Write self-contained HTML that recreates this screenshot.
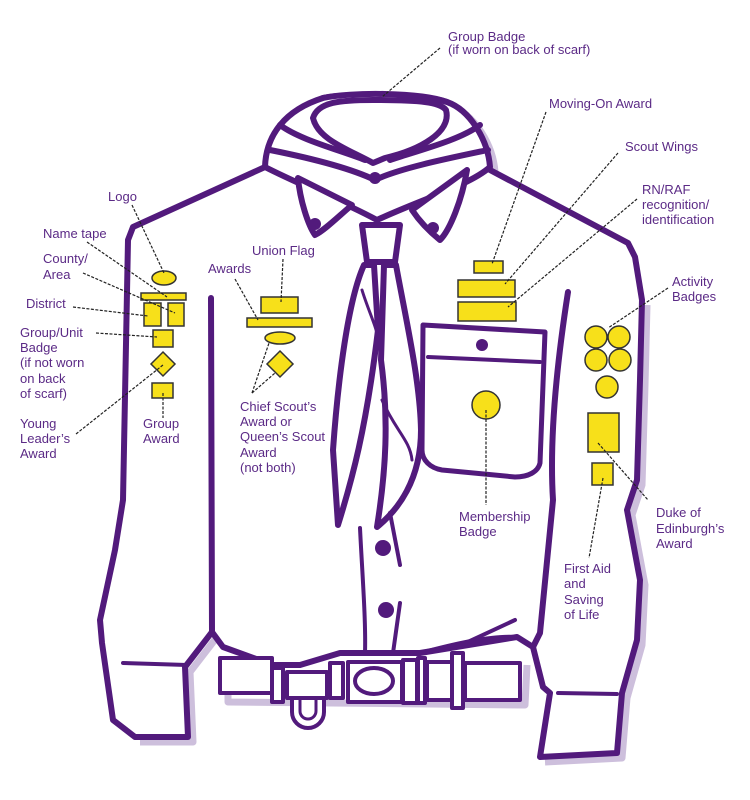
<!DOCTYPE html>
<html><head><meta charset="utf-8"><style>
html,body{margin:0;padding:0;background:#fff;}
svg{display:block;}
text{font-family:"Liberation Sans",sans-serif;font-size:13px;fill:#5b2a86;}
</style></head><body>
<svg width="750" height="800" viewBox="0 0 750 800" xmlns="http://www.w3.org/2000/svg">
<g fill="none" stroke="#cdbfdc" stroke-width="7" stroke-linejoin="round" transform="translate(5,5)">
<path d="M642,300 L640,380 L637,480 L627,510 L640,580 L637,640 L622,693 L617,753 L540,757"/>
<path d="M135,737 L188,737 L185,667 L212,632"/>
<path d="M223,660 L223,697 L520,700 L522,660"/>
<path d="M447,102 C470,110 488,140 490,167"/>
</g>
<g fill="none" stroke="#521a7c" stroke-width="6" stroke-linejoin="round" stroke-linecap="round">
<path fill="#fff" d="M265,167 L133,227 L128,240 L123,500 L115,550 L100,620 L102,643 L113,720 L135,737 L188,737 L185,667 L212,632 L223,647 L273,665 L300,665 L340,653 L420,653 L517,637 L533,647 L543,687 L550,693 L540,757 L617,753 L622,693 L637,640 L640,580 L627,510 L637,480 L640,380 L642,300 L635,257 L628,243 L490,170 L447,102 C420,93 350,93 323,98 Z"/>
<path d="M211,298 L212,632"/>
<path d="M568,292 Q548,420 553,500 L540,633 L533,647"/>
<path stroke-width="4" d="M123,663 L187,665"/>
<path stroke-width="4" d="M558,693 L617,694"/>
<path fill="#fff" d="M265,167 C266,135 285,110 323,98 C350,92 420,92 447,102 C470,110 488,140 490,167 C470,185 420,200 377,220 C340,200 300,185 265,167 Z"/>
<path fill="#fff" d="M313,118 C318,102 340,100 373,100 C420,100 440,102 446,110 C452,132 420,150 385,158 L373,163 C350,150 318,140 313,118 Z"/>
<path d="M270,150 C310,158 350,168 375,180"/>
<path d="M488,150 C450,158 400,168 375,180"/>
<path d="M280,125 C300,140 340,150 365,160"/>
<path d="M480,125 C460,140 420,150 390,160"/>
<path fill="#fff" d="M298,178 C300,200 308,225 315,235 C325,230 340,215 352,205 Z"/>
<path fill="#fff" d="M467,170 C462,200 450,230 440,240 C430,232 420,222 412,210 Z"/>
<path fill="#fff" d="M362,225 L400,225 L395,262 L367,262 Z"/>
<path fill="#fff" d="M364,265 C348,300 338,380 333,450 L338,525 C352,480 366,430 378,330 L374,265 Z"/>
<path fill="#fff" d="M384,265 L396,265 C406,320 420,380 421,430 C421,480 398,510 377,527 C386,470 389,420 381,360 Z"/>
<path stroke-width="3" d="M362,290 C368,310 378,330 378,340"/>
<path stroke-width="3" d="M382,400 C395,430 410,440 412,460"/>
<path stroke-width="4" d="M360,528 C362,570 366,620 365,653"/>
<path stroke-width="4" d="M390,513 L400,565"/>
<path stroke-width="4" d="M400,603 L393,653"/>
<path fill="#fff" stroke-width="5" d="M423,325 L545,332 L540,463 C538,472 528,477 515,477 L442,470 C430,468 422,460 422,450 Z"/>
<path stroke-width="4" d="M428,357 L540,362"/>
<path stroke-width="4" d="M420,653 C450,645 490,635 517,637"/>
<path stroke-width="4" d="M457,647 L515,620"/>
</g>
<g fill="#521a7c">
<circle cx="375" cy="178" r="6"/>
<circle cx="315" cy="224" r="6"/>
<circle cx="433" cy="228" r="6"/>
<circle cx="482" cy="345" r="6"/>
<circle cx="383" cy="548" r="8"/>
<circle cx="386" cy="610" r="8"/>
</g>
<g fill="#fff" stroke="#521a7c" stroke-width="4" stroke-linejoin="round">
<path d="M292,696 L292,712 A16,16 0 0 0 324,712 L324,696 Z"/>
<path d="M300,698 L300,711 A8,8 0 0 0 316,711 L316,698" fill="none" stroke-width="3"/>
<rect x="220" y="658" width="52" height="35"/>
<rect x="287" y="672" width="40" height="26"/>
<rect x="272" y="668" width="11" height="34"/>
<rect x="330" y="663" width="13" height="35"/>
<rect x="348" y="662" width="54" height="40"/>
<ellipse cx="374" cy="681" rx="19" ry="13"/>
<rect x="403" y="660" width="14" height="43"/>
<rect x="418" y="658" width="7" height="45"/>
<rect x="427" y="662" width="25" height="38"/>
<rect x="452" y="653" width="11" height="55"/>
<rect x="465" y="663" width="55" height="37"/>
</g>
<g fill="#f7e01a" stroke="#333" stroke-width="1.5">
<ellipse cx="164" cy="278" rx="12" ry="7"/>
<rect x="141" y="293" width="45" height="7"/>
<rect x="144" y="303" width="17" height="23"/>
<rect x="168" y="303" width="16" height="23"/>
<rect x="153" y="330" width="20" height="17"/>
<polygon points="163,352 175,364 163,376 151,364"/>
<rect x="152" y="383" width="21" height="15"/>
<rect x="261" y="297" width="37" height="16"/>
<rect x="247" y="318" width="65" height="9"/>
<ellipse cx="280" cy="338" rx="15" ry="6"/>
<polygon points="280,351 293,364 280,377 267,364"/>
<rect x="474" y="261" width="29" height="12"/>
<rect x="458" y="280" width="57" height="17"/>
<rect x="458" y="302" width="58" height="19"/>
<circle cx="486" cy="405" r="14"/>
<circle cx="596" cy="337" r="11"/>
<circle cx="619" cy="337" r="11"/>
<circle cx="596" cy="360" r="11"/>
<circle cx="620" cy="360" r="11"/>
<circle cx="607" cy="387" r="11"/>
<rect x="588" y="413" width="31" height="39"/>
<rect x="592" y="463" width="21" height="22"/>
</g>
<g stroke="#222" stroke-width="1.2" stroke-dasharray="3,1.5" fill="none">
<path d="M132,205 L164,273"/>
<path d="M87,242 L167,297"/>
<path d="M83,273 L175,313"/>
<path d="M73,307 L148,316"/>
<path d="M96,333 L157,337"/>
<path d="M76,434 L163,365"/>
<path d="M163,393 L163,418"/>
<path d="M283,259 L281,302"/>
<path d="M235,279 L258,320"/>
<path d="M252,393 L269,343"/>
<path d="M252,393 L275,373"/>
<path d="M440,48 L382,97"/>
<path d="M546,112 L492,264"/>
<path d="M618,153 L505,284"/>
<path d="M637,199 L508,307"/>
<path d="M668,288 L608,328"/>
<path d="M598,443 L648,500"/>
<path d="M603,478 L589,558"/>
<path d="M486,410 L486,505"/>
</g>
<text x="108" y="201">Logo</text>
<text x="43" y="238">Name tape</text>
<text x="43" y="263">County/</text>
<text x="43" y="279">Area</text>
<text x="26" y="308">District</text>
<text x="20" y="337">Group/Unit</text>
<text x="20" y="352">Badge</text>
<text x="20" y="367">(if not worn</text>
<text x="20" y="383">on back</text>
<text x="20" y="398">of scarf)</text>
<text x="20" y="428">Young</text>
<text x="20" y="443">Leader’s</text>
<text x="20" y="458">Award</text>
<text x="143" y="428">Group</text>
<text x="143" y="443">Award</text>
<text x="252" y="255">Union Flag</text>
<text x="208" y="273">Awards</text>
<text x="240" y="411">Chief Scout’s</text>
<text x="240" y="426">Award or</text>
<text x="240" y="441">Queen’s Scout</text>
<text x="240" y="457">Award</text>
<text x="240" y="472">(not both)</text>
<text x="448" y="41">Group Badge</text>
<text x="448" y="54">(if worn on back of scarf)</text>
<text x="549" y="108">Moving-On Award</text>
<text x="625" y="151">Scout Wings</text>
<text x="642" y="194">RN/RAF</text>
<text x="642" y="209">recognition/</text>
<text x="642" y="224">identification</text>
<text x="672" y="286">Activity</text>
<text x="672" y="301">Badges</text>
<text x="656" y="517">Duke of</text>
<text x="656" y="533">Edinburgh’s</text>
<text x="656" y="548">Award</text>
<text x="459" y="521">Membership</text>
<text x="459" y="536">Badge</text>
<text x="564" y="573">First Aid</text>
<text x="564" y="588">and</text>
<text x="564" y="604">Saving</text>
<text x="564" y="619">of Life</text>
</svg>
</body></html>
